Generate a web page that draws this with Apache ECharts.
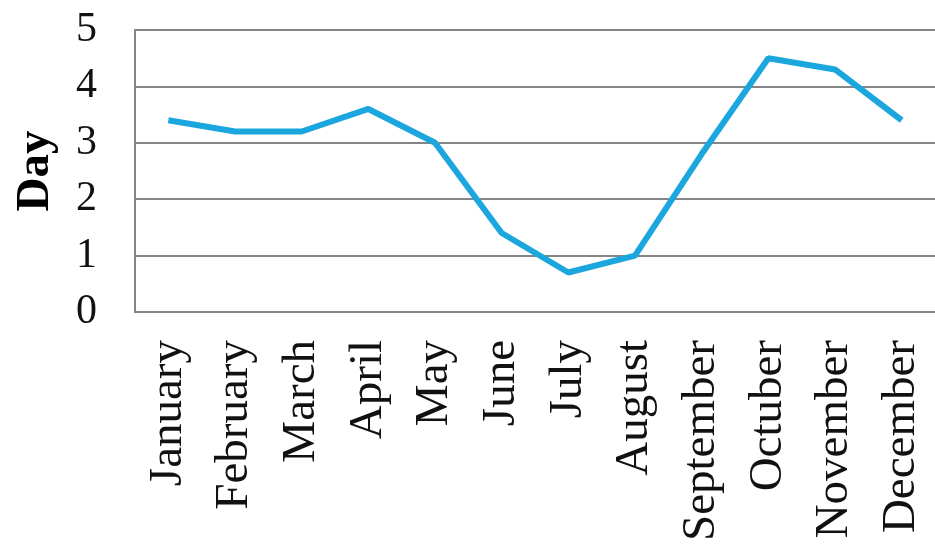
<!DOCTYPE html>
<html><head><meta charset="utf-8">
<script src="https://cdn.jsdelivr.net/npm/echarts@6/dist/echarts.min.js"></script>
<style>html,body{margin:0;padding:0;background:#fff}#c{width:935px;height:544px}</style>
</head><body><div id="c"></div>
<script>
const months = ["January","February","March","April","May","June","July","August","September","Octuber","November","December"];
const days = [3.4, 3.2, 3.2, 3.6, 3.0, 1.4, 0.7, 1.0, 2.8, 4.5, 4.3, 3.4];
const yTicks = [0, 1, 2, 3, 4, 5];
const yName = "Day";

const chart = echarts.init(document.getElementById('c'), null, {renderer: 'canvas'});
const serif = '"Liberation Serif", "Times New Roman", serif';
chart.setOption({
  animation: false,
  backgroundColor: '#fff',
  grid: {left: 135, right: -3, top: 30, bottom: 232},
  xAxis: {
    type: 'category',
    data: months,
    boundaryGap: true,
    axisLine: {show: true, lineStyle: {color: '#858585', width: 2}},
    axisTick: {show: false},
    axisLabel: {rotate: 90, margin: 28, color: '#111', fontFamily: serif, fontSize: 47, interval: 0}
  },
  yAxis: {
    type: 'value',
    min: yTicks[0], max: yTicks[yTicks.length - 1], interval: 1,
    name: yName,
    nameLocation: 'middle',
    nameRotate: 90,
    nameGap: 76,
    nameTextStyle: {fontFamily: serif, fontSize: 47, fontWeight: 'bold', color: '#000'},
    axisLine: {show: true, lineStyle: {color: '#858585', width: 2}},
    axisTick: {show: false},
    axisLabel: {margin: 38, color: '#111', fontFamily: serif, fontSize: 42},
    splitLine: {show: true, lineStyle: {color: '#858585', width: 2}}
  },
  series: [{
    type: 'line',
    data: days,
    symbol: 'none',
    lineStyle: {color: '#1ba6de', width: 6},
    itemStyle: {color: '#1ba6de'}
  }]
});
</script></body></html>
